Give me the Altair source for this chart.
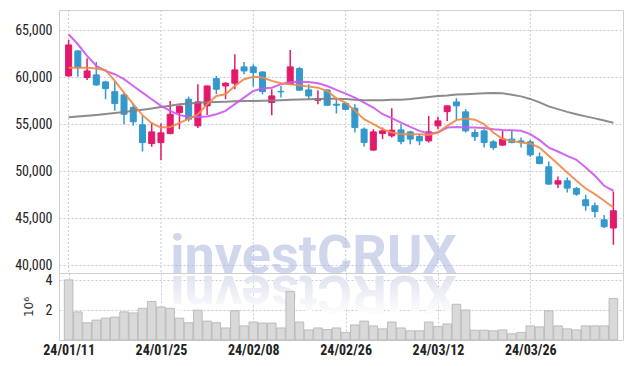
import altair as alt
import pandas as pd

dates = ["24/01/11", "24/01/12", "24/01/15", "24/01/16", "24/01/17", "24/01/18", "24/01/19",
         "24/01/22", "24/01/23", "24/01/24", "24/01/25", "24/01/26", "24/01/29", "24/01/30",
         "24/01/31", "24/02/01", "24/02/02", "24/02/05", "24/02/06", "24/02/07", "24/02/08",
         "24/02/13", "24/02/14", "24/02/15", "24/02/16", "24/02/19", "24/02/20", "24/02/21",
         "24/02/22", "24/02/23", "24/02/26", "24/02/27", "24/02/28", "24/02/29", "24/03/04",
         "24/03/05", "24/03/06", "24/03/07", "24/03/08", "24/03/11", "24/03/12", "24/03/13",
         "24/03/14", "24/03/15", "24/03/18", "24/03/19", "24/03/20", "24/03/21", "24/03/22",
         "24/03/25", "24/03/26", "24/03/27", "24/03/28", "24/03/29", "24/04/01", "24/04/02",
         "24/04/03", "24/04/04", "24/04/05", "24/04/08"]

opens = [60140, 62800, 59960, 60250, 59500, 58470, 58120, 56770, 54930, 52940,
         53040, 54000, 56230, 57660, 54820, 56950, 59850, 59070, 59360, 61100,
         61100, 60560, 57300, 58490, 59260, 60920, 58650, 57550, 58650, 57130,
         57210, 56700, 54470, 52240, 54000, 53760, 54390, 54180, 53680, 53220,
         54820, 56340, 57370, 56310, 54110, 54290, 53120, 52770, 53410, 53220,
         53120, 51520, 50460, 48620, 48970, 48150, 46950, 46310, 44820, 43940]
highs = [63970, 62900, 62020, 61630, 59610, 59610, 58360, 57230, 55880, 55170,
         55060, 57480, 57000, 57940, 59260, 59130, 60140, 59500, 62450, 61630,
         61380, 60620, 58720, 59070, 62900, 61100, 59260, 58620, 58700, 57750,
         57270, 57130, 54640, 54470, 54640, 56700, 55000, 54290, 53940, 55880,
         55780, 57000, 57770, 56600, 54470, 54470, 53300, 54290, 54360, 53580,
         53330, 51980, 51020, 49430, 49320, 48330, 47480, 46660, 45320, 47830]
lows = [60050, 60060, 59710, 59080, 57660, 56420, 55000, 54820, 52090, 52590,
        51170, 53940, 54470, 55280, 54580, 55990, 58190, 57660, 58720, 60320,
        59000, 58190, 55960, 57830, 59180, 58540, 57660, 57130, 56950, 56150,
        56520, 54110, 52590, 52160, 53410, 53580, 52870, 52870, 52770, 53040,
        54470, 55350, 55430, 54110, 53220, 52510, 52270, 52690, 52980, 52510,
        51520, 50720, 48540, 48190, 47720, 47370, 45780, 45060, 43940, 42160]
closes = [63440, 61020, 60670, 59180, 58790, 57190, 56060, 55250, 53040, 54180,
          54080, 56060, 56920, 55530, 57370, 59070, 58720, 59360, 60780, 60670,
          60490, 58470, 58010, 58440, 61100, 58620, 58010, 57720, 57020, 57020,
          56580, 54640, 53040, 54180, 54290, 54360, 53150, 53410, 53220, 54180,
          55350, 56950, 56950, 54290, 53670, 53040, 52510, 53410, 53040, 53040,
          51730, 50810, 48620, 48970, 48190, 47550, 46310, 45700, 44080, 45780]
# volume in millions of shares
volume = [4.04, 1.89, 1.16, 1.34, 1.47, 1.54, 1.89, 1.82, 2.13, 2.59,
          2.22, 2.13, 1.47, 1.16, 2.00, 1.27, 1.16, 0.81, 1.96, 0.95,
          1.21, 1.14, 1.14, 0.81, 3.25, 1.21, 0.68, 0.81, 0.70, 0.81,
          0.51, 1.01, 1.27, 0.95, 0.75, 1.21, 0.81, 0.62, 0.62, 1.21,
          0.90, 1.08, 2.40, 2.02, 0.66, 0.66, 0.62, 0.68, 0.42, 0.51,
          0.95, 0.88, 1.96, 0.95, 0.75, 0.68, 0.95, 0.95, 0.95, 2.79]
ma5 = [61020, 61020, 61020, 60920, 60750, 59610, 58360, 57130, 55960, 55110,
       54640, 54710, 55110, 55600, 56040, 57130, 58010, 58190, 59070, 59790,
       60060, 59960, 59610, 59360, 59260, 59150, 59000, 58890, 58540, 57750,
       57300, 56420, 55530, 55000, 54470, 54110, 53940, 53940, 53940, 53860,
       54110, 54820, 55430, 55600, 55480, 55000, 54110, 53410, 53220, 53040,
       52940, 52510, 51630, 50750, 49850, 48970, 48150, 47550, 46840, 46130]
ma20 = [64580, 63510, 62270, 61200, 60670, 60320, 59790, 59070, 58360, 57660,
        56950, 56420, 55960, 55780, 55760, 55810, 56060, 56420, 57130, 57830,
        58540, 58790, 58890, 59260, 59500, 59530, 59500, 59360, 59070, 58650,
        58260, 57830, 57300, 56770, 56060, 55640, 55170, 54710, 54290, 54000,
        54110, 54640, 54710, 54640, 54640, 54580, 54470, 54390, 54360, 54290,
        53940, 53300, 52510, 52090, 51630, 51200, 50380, 49500, 48440, 47910]
ma60 = [55750, 55830, 55900, 55990, 56080, 56180, 56290, 56420, 56540, 56680,
        56840, 56970, 57110, 57210, 57290, 57330, 57370, 57400, 57440, 57460,
        57480, 57500, 57530, 57560, 57600, 57630, 57660, 57690, 57710, 57710,
        57670, 57610, 57560, 57550, 57560, 57590, 57610, 57690, 57800, 57900,
        57990, 58060, 58160, 58200, 58250, 58290, 58320, 58300, 58140, 57960,
        57690, 57320, 56890, 56600, 56310, 56060, 55830, 55620, 55400, 55160]

label_idx = [0, 10, 20, 30, 40, 50]
price_ticks = [40000, 45000, 50000, 55000, 60000, 65000]
vol_ticks = [2, 4]
watermark = "investCRUX"

UP = "#e3196c"
DOWN = "#3399cc"
GRID = "#c6c9dc"
LABEL_FONT = "Liberation Sans Narrow, Roboto Condensed, Roboto, sans-serif"

n = len(dates)
df = pd.DataFrame({"i": list(range(n)), "date": dates, "open": opens, "high": highs,
                   "low": lows, "close": closes, "vol": volume})
df["dir"] = ["up" if c > o else "down" for o, c in zip(opens, closes)]

ma = pd.concat([
    pd.DataFrame({"i": list(range(n)), "v": s, "s": name})
    for name, s in [("ma60", ma60), ("ma20", ma20), ("ma5", ma5)]
])
grid_df = pd.DataFrame({"i": label_idx})

label_expr = "[" + ",".join("'" + dates[k] + "'" for k in label_idx) + "][round(datum.value/10)]"

xscale = alt.Scale(domain=[-0.5, n - 0.5], nice=False, zero=False)
yscale = alt.Scale(domain=[39150, 67160], nice=False, zero=False)

x_price = alt.X("i:Q", scale=xscale, axis=None)
y_axis = alt.Axis(values=price_ticks, format=",.0f", title=None, ticks=False, domain=False,
                  labelPadding=7, minExtent=45, maxExtent=45, grid=True)
dir_scale = alt.Scale(domain=["up", "down"], range=[UP, DOWN])

wm_df = pd.DataFrame({"t": [watermark]})
wm_rev_df = pd.DataFrame({"t": [watermark[::-1]]})

vgrid = alt.Chart(grid_df).mark_rule(color=GRID, strokeDash=[2, 2], strokeWidth=1).encode(
    x=x_price
)

wm = alt.Chart(wm_df).mark_text(
    font="Roboto", fontWeight="bold", fontSize=54, color="#a3b1db", opacity=0.5,
    align="center", baseline="alphabetic"
).encode(text="t:N", x=alt.value(254.5), y=alt.value(263))

wick = alt.Chart(df).mark_rule(strokeWidth=1.5).encode(
    x=x_price,
    y=alt.Y("low:Q", scale=yscale, axis=y_axis),
    y2="high:Q",
    color=alt.Color("dir:N", scale=dir_scale, legend=None),
)
body = alt.Chart(df).mark_bar(width=6, strokeWidth=1).encode(
    x=x_price,
    y=alt.Y("open:Q", scale=yscale),
    y2="close:Q",
    color=alt.Color("dir:N", scale=dir_scale, legend=None),
    stroke=alt.Stroke("dir:N", scale=dir_scale, legend=None),
)
lines = alt.Chart(ma).mark_line(strokeWidth=2, opacity=0.9).encode(
    x=x_price,
    y=alt.Y("v:Q", scale=yscale),
    color=alt.Color("s:N", scale=alt.Scale(domain=["ma60", "ma20", "ma5"],
                                           range=["#808080", "#cc55ee", "#f08848"]),
                    legend=None),
)

price = alt.layer(vgrid, wm, wick, body, lines).resolve_scale(
    color="independent", stroke="independent"
).properties(width=564, height=263)

x_vol = alt.X("i:Q", scale=xscale,
              axis=alt.Axis(values=label_idx, labelExpr=label_expr, ticks=False, domain=False,
                            grid=True, title=None, labelPadding=3, labelFontSize=14,
                            labelFontWeight="bold"))
wm_ref = alt.Chart(wm_rev_df).mark_text(
    font="Roboto", fontWeight="bold", fontSize=54, angle=180,
    color=alt.LinearGradient(gradient="linear",
                             stops=[alt.GradientStop(color="#ffffff", offset=0.15),
                                    alt.GradientStop(color="#d6dbeb", offset=1)],
                             x1=0, x2=0, y1=0, y2=1),
    align="center", baseline="alphabetic"
).encode(text="t:N", x=alt.value(254.5), y=alt.value(3))

bars = alt.Chart(df).mark_bar(width=8.6, fill="#d9d9d9", stroke="#b3b3b3", strokeWidth=0.8).encode(
    x=x_vol,
    y=alt.Y("vol:Q", scale=alt.Scale(domain=[0, 4.5], nice=False),
            axis=alt.Axis(values=vol_ticks, format="d", title="10⁶", ticks=False, domain=False,
                          labelPadding=7, titlePadding=10, titleFontSize=12,
                          titleFontWeight="normal", titleFont="DejaVu Sans", grid=True)),
)
vol = alt.layer(wm_ref, bars).properties(width=564, height=67)

chart = alt.vconcat(price, vol, spacing=0, bounds="flush").properties(
    padding={"left": 5, "top": 1, "right": 0, "bottom": 0}
).configure_view(stroke="#cfcfcf", strokeWidth=1).configure_axis(
    labelFont=LABEL_FONT, labelFontSize=14, labelColor="#222222",
    gridColor=GRID, gridDash=[2, 2], gridWidth=1,
    titleColor="#333333"
)

chart.save("out.html", embed_options={"renderer": "svg", "actions": False})
